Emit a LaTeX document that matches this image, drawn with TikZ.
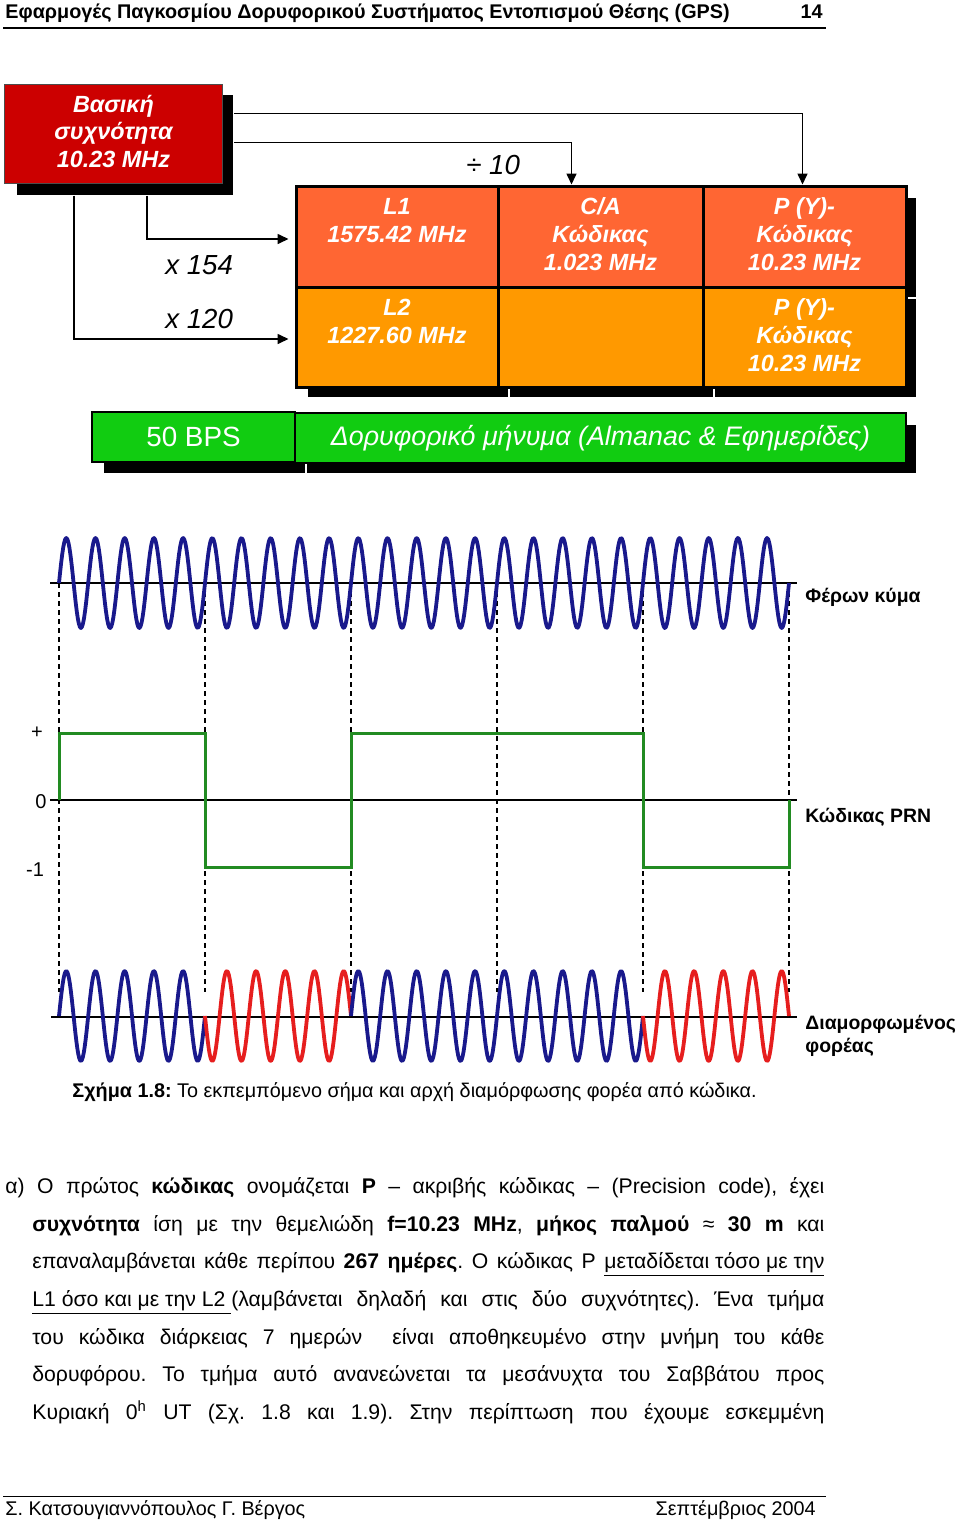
\documentclass[tikz,border=0pt]{standalone}
\usepackage{fontspec}
\setmainfont{Liberation Sans}
\usetikzlibrary{arrows.meta,calc}
\newdimen\px \px=0.5pt
\definecolor{boxred}{RGB}{204,0,0}
\definecolor{celltop}{RGB}{255,102,51}
\definecolor{cellbot}{RGB}{255,153,0}
\definecolor{barg}{RGB}{17,204,17}
\definecolor{wblue}{RGB}{25,25,140}
\definecolor{wred}{RGB}{230,30,30}
\definecolor{wgreen}{RGB}{34,139,34}
\newcommand\fsz[2]{\fontsize{#1pt}{#2pt}\selectfont}
\frenchspacing
\begin{document}
\begin{tikzpicture}[x=0.5pt,y=-0.5pt,
  txt/.style={inner sep=0pt, anchor=base west},
  conn/.style={line width=0.8pt, -{Triangle[length=5.5pt,width=5pt]}},
  shad/.style={fill=black, draw=white, line width=0.6pt},
  cell/.style={draw=black, line width=1.5pt, inner sep=0pt},
  celltxt/.style={text=white, font=\fsz{11.7}{14}\bfseries\itshape, align=center, anchor=north, inner sep=0pt},
  bar/.style={fill=barg, draw=black, line width=0.6pt, text=white, font=\fsz{13.9}{16}, inner sep=0pt},
  bluew/.style={wblue, line width=1.9pt, line join=round},
  redw/.style={wred, line width=1.9pt, line join=round},
  guide/.style={black, line width=0.6pt, dash pattern=on 2.5pt off 2pt},
  axisline/.style={black, line width=0.7pt},
  lbl/.style={inner sep=0pt, anchor=base west, font=\fsz{9.7}{11.5}\bfseries},
  para/.style={inner sep=0pt, anchor=base west, font=\fsz{10.6}{12}},
  mult/.style={inner sep=0pt, anchor=base west, font=\fsz{13.8}{16}\itshape},
]
\fill[white] (0,0) rectangle (960,1521);
\useasboundingbox (0,0) rectangle (960,1521);

% header
\node[txt, font=\fsz{9.9}{11}\bfseries] (head) at (5,18) {Εφαρμογές Παγκοσμίου Δορυφορικού Συστήματος Εντοπισμού Θέσης (GPS)};
\node[inner sep=0pt, anchor=base east, font=\fsz{9.9}{11}\bfseries] (pg) at (823,18) {14};
\draw[line width=1.2pt] (3,28) -- (826,28);

% base frequency box
\fill (17,95) rectangle (233,195);
\node[fill=boxred, draw=black!70, line width=0.5pt, minimum width=218\px, minimum height=99\px, inner sep=0pt] (base) at (113.5,133.5) {};
\node[celltxt, font=\fsz{11.7}{13.8}\bfseries\itshape] (baset) at (113.5,94.5) {Βασική\\συχνότητα\\10.23 MHz};

% cell shadows
\foreach \xa/\xb/\ya/\yb in {296/498/186/287, 498/703/186/287, 703/906/186/287,
                             296/498/287/387, 498/703/287/387, 703/906/287/387}
  \filldraw[shad] (\xa+11,\ya+11) rectangle (\xb+11,\yb+11);
% cells
\node[cell, fill=celltop, minimum width=202\px, minimum height=101\px] (l1) at (397,236.5) {};
\node[cell, fill=celltop, minimum width=205\px, minimum height=101\px] (ca) at (600.5,236.5) {};
\node[cell, fill=celltop, minimum width=203\px, minimum height=101\px] (py1) at (804.5,236.5) {};
\node[cell, fill=cellbot, minimum width=202\px, minimum height=100\px] (l2) at (397,337) {};
\node[cell, fill=cellbot, minimum width=205\px, minimum height=100\px] (mid) at (600.5,337) {};
\node[cell, fill=cellbot, minimum width=203\px, minimum height=100\px] (py2) at (804.5,337) {};
\node[celltxt] (l1t) at (397,198) {L1\\1575.42 MHz};
\node[celltxt] (cat) at (600.5,197.5) {C/A\\Κώδικας\\1.023 MHz};
\node[celltxt] (py1t) at (804.5,197.5) {P (Y)-\\Κώδικας\\10.23 MHz};
\node[celltxt] (l2t) at (397,299) {L2\\1227.60 MHz};
\node[celltxt] (py2t) at (804.5,298.5) {P (Y)-\\Κώδικας\\10.23 MHz};

% connectors
\draw[conn] ($(base.north east)+(11,30)$) -| ([xshift=-2\px]py1.north);
\draw[conn] ($(base.north east)+(11,59)$) -| ([xshift=-29\px]ca.north);
\draw[conn] ($(base.south west)+(143,12)$) |- ([shift={(-6,2.5)}]l1.west);
\draw[conn] ($(base.south west)+(70,12)$) |- ([shift={(-6,2)}]l2.west);
\node[mult] (m154) at (165,274) {x 154};
\node[mult] (m120) at (165,328) {x 120};
\node[mult] (d10) at (466,174) {÷ 10};

% green bar
\filldraw[shad] (103,424) rectangle (306,474);
\filldraw[shad] (306,424) rectangle (917,474);
\node[bar, minimum width=203\px, minimum height=50\px] (bps) at (193.5,437) {50 BPS};
\node[bar, minimum width=611\px, minimum height=50\px, font=\fsz{13.4}{16}\itshape] (msg) at (600.5,438) {Δορυφορικό μήνυμα (Almanac \& Εφημερίδες)};

% guides
\foreach \gx in {59,205,351,497,643,789}
  \draw[guide] (\gx,583) -- (\gx,992);

% carrier
\draw[axisline] (50,583) -- (797,583);
\draw[bluew] plot[domain=59:789, samples=700] (\x,{583-45*sin(12.328767*(\x-59))});
\node[lbl] (carrier) at (805,602) {Φέρων κύμα};

% PRN code
\draw[axisline] (50,800) -- (797,800);
\draw[wgreen, line width=1.5pt, line join=miter]
  (59,800) -- (59,733) -- (205,733) -- (205,867) -- (351,867) -- (351,733)
  -- (643,733) -- (643,867) -- (789,867) -- (789,800);
\node[inner sep=0pt, font=\fsz{10}{12}] (plus) at (37,733) {+};
\node[inner sep=0pt, font=\fsz{10}{12}] (zero) at (41,802) {0};
\node[inner sep=0pt, font=\fsz{10}{12}] (minus) at (35,870) {-1};
\node[lbl] (prn) at (805,822) {Κώδικας PRN};

% modulated carrier
\draw[axisline] (51,1017) -- (797,1017);
\draw[bluew] plot[domain=59:205, samples=160] (\x,{1016-45*sin(12.328767*(\x-59))});
\draw[redw] plot[domain=205:351, samples=160] (\x,{1016+45*sin(12.328767*(\x-59))});
\draw[bluew] plot[domain=351:643, samples=320] (\x,{1016-45*sin(12.328767*(\x-59))});
\draw[redw] plot[domain=643:789, samples=160] (\x,{1016+45*sin(12.328767*(\x-59))});
\node[lbl, align=left, anchor=north west] (modc) at (805,1015) {Διαμορφωμένος\\φορέας};

% caption
\node[txt, font=\fsz{9.9}{11.5}] (cap) at (72,1097) {\textbf{Σχήμα 1.8:} Το εκπεμπόμενο σήμα και αρχή διαμόρφωσης φορέα από κώδικα.};

% paragraph
\node[para] (t1) at (5,1193) {\makebox[409.5pt][s]{α) Ο πρώτος \textbf{κώδικας} ονομάζεται \textbf{P} – ακριβής κώδικας – (Precision code), έχει}};
\node[para] (t2) at (32,1231) {\makebox[396pt][s]{\textbf{συχνότητα} ίση με την θεμελιώδη \textbf{f=10.23 MHz}, \textbf{μήκος παλμού} ≈ \textbf{30 m} και}};
\node[para] (t3) at (32,1268) {\makebox[396pt][s]{επαναλαμβάνεται κάθε περίπου \textbf{267 ημέρες}. Ο κώδικας P \underline{μεταδίδεται τόσο με την}}};
\node[para] (t4) at (32,1306) {\makebox[396pt][s]{\underline{L1 όσο και με την L2 }(λαμβάνεται δηλαδή και στις δύο συχνότητες). Ένα τμήμα}};
\node[para] (t5) at (32,1344) {\makebox[396pt][s]{του κώδικα διάρκειας 7 ημερών\ \ είναι αποθηκευμένο στην μνήμη του κάθε}};
\node[para] (t6) at (32,1381) {\makebox[396pt][s]{δορυφόρου. Το τμήμα αυτό ανανεώνεται τα μεσάνυχτα του Σαββάτου προς}};
\node[para] (t7) at (32,1419) {\makebox[396pt][s]{Κυριακή 0\textsuperscript{h} UT (Σχ. 1.8 και 1.9). Στην περίπτωση που έχουμε εσκεμμένη}};

% footer
\draw[line width=0.5pt] (3,1496) -- (826,1496);
\node[txt, font=\fsz{9.9}{11}] (auth) at (5,1515) {Σ. Κατσουγιαννόπουλος Γ. Βέργος};
\node[inner sep=0pt, anchor=base east, font=\fsz{9.9}{11}] (date) at (816,1515) {Σεπτέμβριος 2004};
\end{tikzpicture}
\end{document}
